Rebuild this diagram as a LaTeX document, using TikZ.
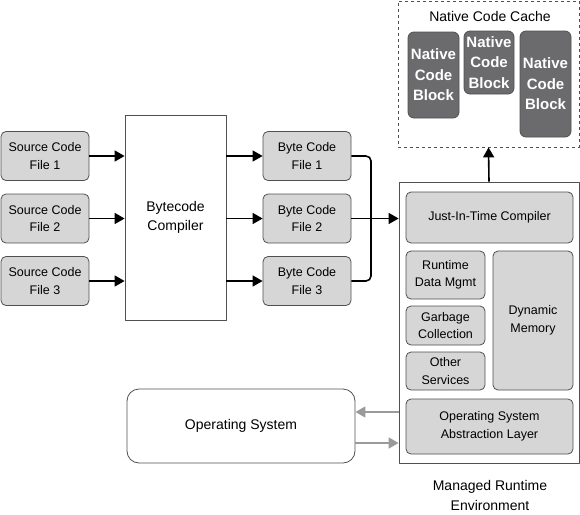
\documentclass[tikz,border=0pt]{standalone}
\usepackage{fontspec}
\setmainfont{Liberation Sans}
\usepackage{xcolor}
\usepackage{tikz}
\usetikzlibrary{positioning}
\usetikzlibrary{calc}
\usetikzlibrary{arrows.meta}

\definecolor{boxfill}{HTML}{D6D6D6}
\definecolor{boxline}{HTML}{505050}
\definecolor{blockfill}{HTML}{6B6B6D}
\definecolor{osarrow}{HTML}{9A9A9A}

\begin{document}
\begin{tikzpicture}[x=1pt, y=-1pt, line join=round,
	arr/.style={-{Triangle[length=10pt,width=11pt]}, line width=1.6pt, black},
	garr/.style={-{Triangle[length=10pt,width=11pt]}, line width=1.6pt, osarrow},
	filebox/.style={rectangle, rounded corners=5pt, draw=boxline, fill=boxfill, line width=0.8pt, inner sep=0pt, align=center, font=\fontsize{12.5}{17.5}\selectfont, minimum width=88pt, minimum height=49pt},
	part/.style={filebox, minimum width=79pt},
	bigbox/.style={rectangle, draw=boxline, fill=white, line width=0.8pt, inner sep=0pt, align=center, font=\fontsize{14}{19}\selectfont},
	nblock/.style={rectangle, rounded corners=6pt, draw=boxline, fill=blockfill, line width=0.8pt, inner sep=0pt, align=center, text=white, font=\fontsize{15}{20.5}\selectfont\bfseries, minimum width=51pt}]
	\useasboundingbox (0,0) rectangle (580,514);
	% source files and compiler
	\node[filebox] (src1) at (45,156) {Source Code\\File 1};
	\node[filebox] (src2) at (45,218.5) {Source Code\\File 2};
	\node[filebox] (src3) at (45,281) {Source Code\\File 3};
	\node[bigbox, minimum width=101pt, minimum height=205pt] (comp) at (175.5,217.5) {Bytecode\\Compiler};
	\node[filebox] (byte1) at (307,156) {Byte Code\\File 1};
	\node[filebox] (byte2) at (307,218.5) {Byte Code\\File 2};
	\node[filebox] (byte3) at (307,281) {Byte Code\\File 3};
	% managed runtime
	\node[bigbox, minimum width=180pt, minimum height=281pt] (mre) at (489,322.5) {};
	\node[filebox, minimum width=167pt, minimum height=51pt] (jit) at (489.5,217.5) {Just-In-Time Compiler};
	\node[part, minimum height=48pt] (rdm) at (445.5,275) {Runtime\\Data Mgmt};
	\node[part, minimum height=39pt] (gc) at (445.5,325.5) {Garbage\\Collection};
	\node[part, minimum height=38pt] (other) at (445.5,371) {Other\\Services};
	\node[filebox, minimum width=80pt, minimum height=139pt] (dyn) at (533,320.5) {Dynamic\\Memory};
	\node[filebox, minimum width=167pt, minimum height=55pt] (osal) at (489.5,426.5) {Operating System\\Abstraction Layer};
	\node[align=center, font=\fontsize{14}{20}\selectfont] (mrelabel) at (490,495) {Managed Runtime\\Environment};
	\node[bigbox, rounded corners=12pt, minimum width=228pt, minimum height=74pt] (os) at (241,426) {Operating System};
	% native code cache
	\node[rectangle, draw=boxline, dashed, line width=0.8pt, minimum width=181pt, minimum height=146pt] (cache) at (488.5,74) {};
	\node[font=\fontsize{14}{17}\selectfont] (cachetitle) at (490,16) {Native Code Cache};
	\node[nblock, minimum height=86pt] (nb1) at (433.5,75) {Native\\Code\\Block};
	\node[nblock, minimum width=50pt, minimum height=63pt] (nb2) at (489,62.5) {Native\\Code\\Block};
	\node[nblock, minimum height=106pt] (nb3) at (545.5,84) {Native\\Code\\Block};
	\coordinate (brk) at (371,218.5);
	\path ([yshift=14pt]os.east) coordinate (osa);
	\path ([yshift=-17pt]os.east) coordinate (osb);
	% connectors
	\foreach \i in {1,2,3} {
		\draw[arr] (src\i) -- (src\i -| comp.west);
		\draw[arr] (comp.east |- byte\i) -- (byte\i);
	}
	\draw[line width=1.6pt, rounded corners=5pt] (byte1.east) -| (brk) |- (byte3.east);
	\draw[arr] (byte2.east) -- (byte2 -| mre.west);
	\draw[arr] (mre.north) -- (cache.south);
	\draw[garr] (osa -| mre.west) -- (osa);
	\draw[garr] (osb) -- (osb -| mre.west);
\end{tikzpicture}
\end{document}
